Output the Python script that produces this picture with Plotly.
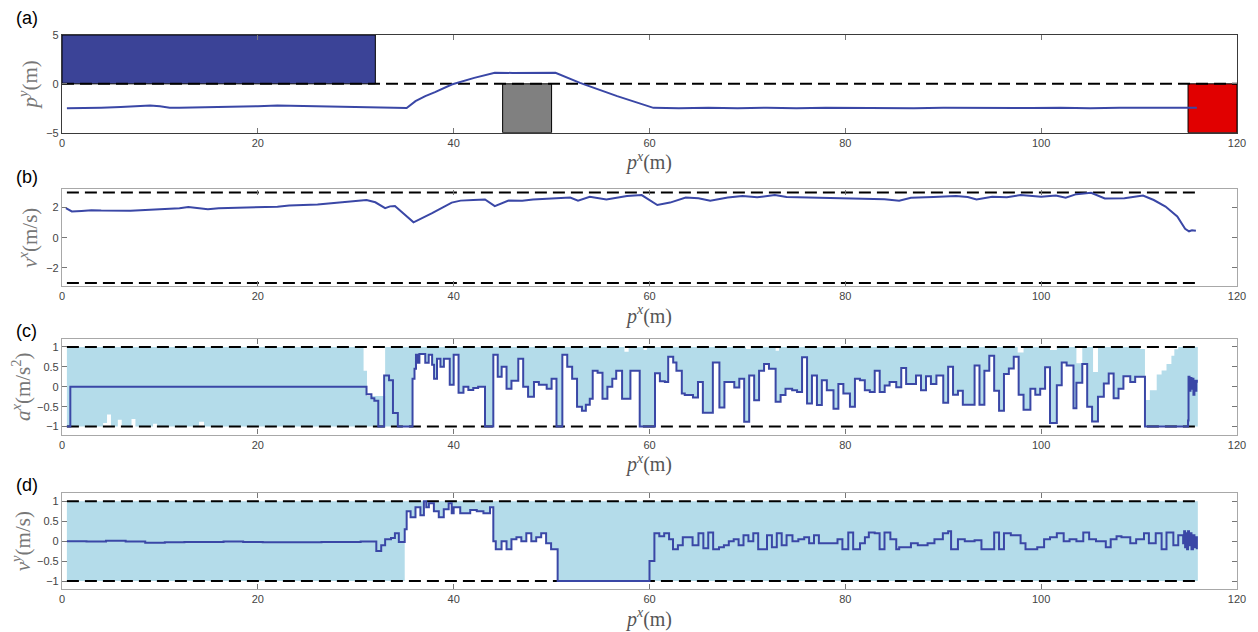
import plotly.graph_objects as go

# ---------------- data ----------------
x_ticks = [0, 20, 40, 60, 80, 100, 120]

# (a) obstacles / regions
obs_x0 = [0, 45, 115]
obs_x1 = [32, 50, 120]
obs_y0 = [0, -5, -5]
obs_y1 = [5, 0, 0]
obs_col = ["#3b4397", "#808080", "#e10000"]

# (a) lateral position trajectory
py_x = [0.5, 2, 4, 6, 8, 9, 10, 11, 12, 14, 16, 18, 20, 22, 24, 26, 28, 30, 32, 34, 35.2,
        36.1, 37.1, 38.1, 39.8, 42.1, 44.2, 46, 48, 50.4,
        52.9, 56.7, 60.4, 63, 66, 69, 72, 75, 78, 81, 84, 87, 90, 93, 96, 99, 102,
        105, 108, 111, 114, 115.9]
py_y = [-2.5, -2.5, -2.45, -2.38, -2.26, -2.22, -2.3, -2.45, -2.45, -2.42, -2.38, -2.35, -2.3,
        -2.22, -2.26, -2.33, -2.38, -2.4, -2.43, -2.5, -2.47,
        -1.77, -1.26, -0.85, -0.07, 0.61, 1.13, 1.12, 1.1, 1.13,
        0.1, -1.26, -2.46, -2.5, -2.44, -2.49, -2.45, -2.5, -2.44, -2.48, -2.45, -2.5, -2.45,
        -2.47, -2.43, -2.48, -2.44, -2.49, -2.45, -2.47, -2.44, -2.45]

# (b) longitudinal velocity
vx_x = [0.4, 1.0, 2, 3, 4, 5, 6, 7, 8, 9, 10, 10.8, 12, 12.9, 14, 14.9, 16, 17, 18, 19.9,
        21, 22, 23.2, 24.5, 26.1, 27.5, 29.5, 31.1, 32, 33, 33.5, 34, 35.9, 37.8, 39.8, 40.7,
        42, 43.2, 44.2, 45.6, 47, 48.1, 50, 51.9, 52.7, 53.9, 55.6, 57.7, 59.2, 60.8, 62.1,
        63.7, 65, 66.2, 68, 69.5, 71, 72.8, 74, 75.6, 78, 80, 82, 84, 85.5, 86.7, 89, 91.3,
        92.5, 93.4, 95, 96.5, 97.9, 100, 101.5, 102.5, 103.6, 105.1, 106.5, 108.5, 110.4,
        111.5, 112.7, 113.9, 114.7, 115.1, 115.4, 115.8]
vx_v = [1.96, 1.74, 1.78, 1.82, 1.8, 1.78, 1.8, 1.79, 1.82, 1.85, 1.86, 1.89, 1.96, 2.04, 1.95,
        1.89, 1.95, 1.97, 1.96, 2.0, 2.05, 2.06, 2.13, 2.15, 2.2, 2.28, 2.39, 2.5, 2.35, 1.96,
        2.08, 2.1, 1.02, 1.63, 2.33, 2.46, 2.5, 2.54, 2.1, 2.46, 2.45, 2.54, 2.6, 2.67, 2.46,
        2.72, 2.54, 2.76, 2.83, 2.17, 2.33, 2.67, 2.62, 2.46, 2.66, 2.76, 2.68, 2.83, 2.7,
        2.67, 2.65, 2.6, 2.58, 2.55, 2.46, 2.65, 2.7, 2.76, 2.7, 2.54, 2.72, 2.68, 2.83, 2.72,
        2.8, 2.66, 2.89, 2.98, 2.6, 2.62, 2.8, 2.5, 2.07, 1.41, 0.59, 0.43, 0.5, 0.46]

# (c) longitudinal acceleration (piecewise constant, value starts at ax_x[i])
ax_x = [0.5, 0.85, 31.1, 31.6, 31.9, 32.3, 32.9, 33.4, 33.8, 34.3,
        35.8, 36.0, 36.15, 36.35, 36.5, 37.1, 37.45, 37.8, 38.0, 38.3,
        38.65, 39.0, 39.6, 40.0, 40.5, 41.0, 41.5, 42.0, 42.5, 43.2,
        44.05, 44.5, 44.9, 45.4, 45.9, 46.6, 47.1, 47.6, 48.2, 48.7,
        49.5, 50.0, 50.5, 51.1, 51.6, 52.1, 52.6, 53.1, 53.5, 53.9,
        54.2, 54.7, 55.2, 55.7, 56.2, 56.6, 57.2, 58.05, 59.0, 60.56,
        61.06, 61.57, 61.91, 62.42, 62.75, 63.3, 63.6, 64.44, 64.95, 65.45,
        66.47, 67.14, 67.65, 68.66, 69.17, 69.67, 70.18, 70.69, 71.19, 71.7,
        72.2, 72.88, 73.39, 73.89, 74.57, 75.07, 75.58, 76.09, 76.59, 77.1,
        77.6, 78.11, 78.79, 79.29, 79.8, 80.47, 80.98, 81.49, 81.99, 82.5,
        83.0, 83.51, 84.02, 84.52, 85.2, 85.71, 86.21, 87.22, 87.73, 88.24,
        88.74, 89.3, 90.0, 90.5, 91.0, 91.5, 92.0, 93.2, 93.7, 94.2,
        94.7, 95.2, 95.7, 96.2, 96.7, 97.2, 97.7, 98.2, 98.9, 99.4,
        99.9, 100.4, 100.9, 101.6, 102.1, 102.6, 103.3, 103.6, 104.2, 104.7,
        105.2, 105.8, 106.4, 106.9, 107.4, 107.9, 108.4, 109.1, 109.6, 110.6,
        115.0, 115.05, 115.15, 115.25, 115.35, 115.45, 115.55, 115.65, 115.75, 115.85,
        115.9]
ax_v = [-1, 0, -0.19, -0.29, -0.35, -1, 0.28, 0.16, -0.66, -1,
        0.2, 0.45, 0.8, 0.6, 0.82, 0.6, 0.8, 0.55, 0.2, 0.7,
        0.5, 0.7, 0.05, 0.8, -0.15, 0.0, -0.08, -0.03, 0.0, -1,
        0.8, 0.25, 0.5, -0.05, 0.15, 0.7, 0.0, -0.25, 0.12, 0.05,
        -0.05, 0.2, -1, 0.8, 0.5, 0.2, -0.5, -0.6, -0.45, -0.3,
        0.4, 0.35, -0.3, 0.0, 0.2, 0.4, -0.3, 0.4, -1, 0.34,
        0.14, 0.12, 0.75, 0.61, 0.4, -0.17, -0.21, -0.27, 0.12, -0.65,
        0.61, -0.52, 0.12, -0.02, 0.2, -0.88, 0.28, -0.34, 0.4, 0.57,
        0.45, -0.38, -0.21, -0.05, -0.09, -0.13, 0.74, -0.42, 0.28, -0.46,
        0.16, -0.09, -0.55, 0.07, -0.17, -0.5, 0.2, 0.16, -0.09, -0.13,
        0.4, -0.13, 0.03, 0.12, -0.01, 0.47, 0.07, 0.28, -0.09, 0.26,
        0.07, 0.28, -0.4, 0.5, -0.2, -0.1, -0.45, 0.53, -0.45, 0.4,
        0.78, -0.1, -0.6, 0.32, 0.46, 0.75, -0.2, -0.58, -0.05, -0.2,
        -0.05, 0.49, -0.91, 0.04, 0.61, 0.53, -0.54, 0.1, 0.57, -0.5,
        -0.87, -0.25, 0.08, 0.33, -0.29, -0.05, 0.26, 0.12, 0.25, -1,
        -0.85, 0.25, -0.1, 0.22, -0.05, 0.2, -0.2, 0.15, -0.1, 0.15,
        0.1]

# (c) admissible acceleration set: lower edge before tracking starts, upper edge
ac_lo_x = [0.5, 4.2, 4.6, 5.0, 5.7, 6.1, 7.1, 7.5, 9.3, 9.7, 14.0, 14.5]
ac_lo_v = [-1, -0.91, -0.7, -1, -0.83, -1, -0.81, -1, -0.93, -1, -0.88, -1]
ac_track = [35.8, 110.6]          # lower edge follows a^x in this interval
ac_hi_x = [0.5, 30.8, 31.15, 33.0, 57.44, 57.87, 59.39, 59.73, 69.85, 70.35,
           72.88, 73.22, 97.6, 98.2, 100.9, 101.6, 103.6, 104.2, 105.3, 105.8,
           110.1, 110.6, 111.1, 111.8, 112.3, 112.8, 113.3, 113.6, 114.0, 116]
ac_hi_v = [1, 0.4, -0.23, 1, 0.88, 1, 0.92, 1, 0.95, 1,
           0.9, 1, 0.86, 1, 0.92, 1, 0.59, 1, 0.37, 1,
           0.95, -0.33, -0.09, 0.31, 0.41, 0.57, 0.78, 0.94, 1, 1]

# (d) lateral velocity (piecewise constant)
vy_x = [0.5, 2.5, 4.5, 6.5, 8.5, 10.5, 12.5, 14.5, 16.5, 18.5,
        20.5, 22.5, 24.5, 26.5, 28.5, 30.5, 32.1, 32.6, 33.0, 33.6,
        34.0, 34.4, 35.0, 35.2, 35.6, 36.1, 36.6, 36.96, 37.2, 37.47,
        37.98, 38.48, 38.99, 39.49, 39.8, 40.0, 40.67, 41.69, 42.36, 43.04,
        43.71, 44.05, 44.3, 44.89, 45.4, 45.9, 46.41, 46.91, 47.42, 47.93,
        48.43, 48.94, 49.44, 49.95, 50.62, 60.0, 60.5, 61.0, 61.5, 62.0,
        62.4, 62.9, 63.4, 64.4, 65.0, 65.5, 66.0, 66.5, 67.1, 67.6,
        68.1, 68.6, 69.1, 69.6, 70.1, 70.6, 71.1, 72.0, 72.5, 73.0,
        73.5, 74.0, 74.6, 75.2, 75.8, 76.3, 76.8, 77.3, 79.2, 79.7,
        80.3, 80.8, 81.5, 82.0, 82.4, 83.0, 83.5, 84.0, 84.6, 85.2,
        85.5, 86.7, 87.4, 88.4, 89.1, 89.96, 90.5, 90.8, 91.5, 92.2,
        93.2, 93.9, 95.2, 95.7, 96.2, 96.9, 97.9, 98.4, 99.6, 100.3,
        100.9, 101.6, 102.3, 102.9, 103.6, 104.3, 104.9, 105.6, 106.6, 107.1,
        107.7, 108.2, 109.1, 109.7, 110.5, 111.0, 111.7, 112.3, 112.8, 113.5,
        114.0, 114.5, 114.6, 114.7, 114.8, 114.9, 115.0, 115.1, 115.2, 115.35,
        115.5, 115.65, 115.8, 115.9]
vy_v = [0.0, -0.01, 0.01, -0.01, -0.04, -0.03, -0.02, -0.02, -0.01, -0.02,
        -0.03, -0.03, -0.03, -0.02, -0.02, -0.01, -0.25, -0.1, 0.05, 0.08,
        0.2, -0.02, 0.3, 0.75, 0.6, 0.85, 0.65, 1.0, 0.85, 0.95,
        0.75, 0.6, 0.8, 0.95, 0.7, 0.85, 0.7, 0.78, 0.75, 0.7,
        0.85, 0.0, -0.2, 0.0, -0.2, 0.05, 0.1, 0.0, 0.2, 0.0,
        0.1, 0.2, -0.05, -0.2, -1, -0.5, 0.2, 0.12, 0.2, 0.05,
        -0.2, -0.1, 0.1, -0.1, 0.2, -0.18, 0.22, -0.2, -0.15, -0.1,
        0.0, 0.05, -0.1, 0.15, 0.0, 0.2, -0.2, 0.15, -0.15, 0.2,
        -0.1, 0.15, 0.0, 0.05, 0.1, -0.05, 0.15, -0.05, 0.05, -0.2,
        0.22, -0.2, -0.05, 0.1, 0.22, 0.2, -0.2, 0.22, 0.05, -0.2,
        -0.15, -0.05, -0.1, -0.05, 0.05, 0.2, 0.25, -0.2, 0.05, 0.0,
        0.02, -0.2, 0.22, -0.2, 0.2, 0.15, -0.05, -0.2, -0.15, 0.05,
        0.1, 0.2, 0.0, 0.05, 0.0, 0.22, 0.05, 0.0, -0.15, 0.05,
        0.12, 0.1, -0.05, 0.05, 0.2, -0.05, 0.2, -0.2, 0.22, -0.1,
        0.15, -0.05, 0.25, -0.15, 0.2, -0.2, 0.25, -0.1, 0.2, -0.2,
        0.15, -0.15, 0.1, -0.2]
vy_track = [35.0, 50.62]          # lower edge of admissible set follows v^y here

band_x = [0.5, 116]               # extent of the constraint lines / sets
vx_lim = 3
a_lim = 1
vy_lim = 1

# ---------------- styling ----------------
LINE = "#3a47a6"
FILL = "#b4dcea"
SERIF = "Liberation Serif, DejaVu Serif, serif"
SANS = "Liberation Sans, Arial, Helvetica, sans-serif"

fig = go.Figure()


def add(tr, k):
    tr.update(xaxis="x" if k == 1 else f"x{k}", yaxis="y" if k == 1 else f"y{k}",
              showlegend=False, hoverinfo="skip")
    fig.add_trace(tr)


def dashed(k, xs, yv):
    add(go.Scatter(x=xs, y=[yv] * len(xs), mode="lines",
                   line=dict(color="black", width=2, dash="12px,6px")), k)


# ---- (a)
for i in range(len(obs_x0)):
    fig.add_shape(type="rect", xref="x", yref="y", x0=obs_x0[i], x1=obs_x1[i],
                  y0=obs_y0[i], y1=obs_y1[i], fillcolor=obs_col[i],
                  line=dict(color="black", width=1), layer="below")
dashed(1, [0, 120], 0)
add(go.Scatter(x=py_x, y=py_y, mode="lines", line=dict(color=LINE, width=2)), 1)

# ---- (b)
dashed(2, band_x, vx_lim)
dashed(2, band_x, -vx_lim)
add(go.Scatter(x=vx_x, y=vx_v, mode="lines", line=dict(color=LINE, width=2)), 2)

# ---- (c)
lo_x = ac_lo_x + [x for x in ax_x if ac_track[0] <= x < ac_track[1]] + [ac_track[1], band_x[1]]
lo_v = ac_lo_v + [v for x, v in zip(ax_x, ax_v) if ac_track[0] <= x < ac_track[1]] + [-a_lim, -a_lim]
add(go.Scatter(x=lo_x, y=lo_v, mode="lines", line=dict(width=0, shape="hv")), 3)
add(go.Scatter(x=ac_hi_x, y=ac_hi_v, mode="lines", line=dict(width=0, shape="hv"),
               fill="tonexty", fillcolor=FILL), 3)
dashed(3, band_x, a_lim)
dashed(3, band_x, -a_lim)
add(go.Scatter(x=ax_x, y=ax_v, mode="lines", line=dict(color=LINE, width=2, shape="hv")), 3)

# ---- (d)
lo_x = [band_x[0]] + [x for x in vy_x if vy_track[0] <= x < vy_track[1]] + [vy_track[1], band_x[1]]
lo_v = [-vy_lim] + [v for x, v in zip(vy_x, vy_v) if vy_track[0] <= x < vy_track[1]] + [-vy_lim, -vy_lim]
add(go.Scatter(x=lo_x, y=lo_v, mode="lines", line=dict(width=0, shape="hv")), 4)
add(go.Scatter(x=band_x, y=[vy_lim, vy_lim], mode="lines", line=dict(width=0, shape="hv"),
               fill="tonexty", fillcolor=FILL), 4)
dashed(4, band_x, vy_lim)
dashed(4, band_x, -vy_lim)
add(go.Scatter(x=vy_x, y=vy_v, mode="lines", line=dict(color=LINE, width=2, shape="hv")), 4)

# ---------------- layout ----------------
domains = [[0.8237, 1.0], [0.5468, 0.7212], [0.2788, 0.4514], [0.0, 0.1727]]
yranges = [[-5, 5], [-3.2, 3.2], [-1.2, 1.2], [-1.2, 1.2]]
yticks = [[-5, 0, 5], [-2, 0, 2], [-1, -0.5, 0, 0.5, 1], [-1, -0.5, 0, 0.5, 1]]
ytitles = ["<i>p</i><sup><i>y</i></sup>(m)",
           "<i>v</i><sup><i>x</i></sup>(m/s)",
           "<i>a</i><sup><i>x</i></sup>(m/s<sup>2</sup>)",
           "<i>v</i><sup><i>y</i></sup>(m/s)"]
boxcol = ["#3a3a3a", "#a8a8a8", "#a8a8a8", "#a8a8a8"]
labels = ["(a)", "(b)", "(c)", "(d)"]
label_y = [18, 178, 332, 487]

# the page adds an 8px body margin, so the figure is sized to fit the window
lay = dict(width=1250, height=624, paper_bgcolor="white", plot_bgcolor="white",
           margin=dict(l=49, r=16, t=27, b=41), showlegend=False)
for k in range(1, 5):
    sx = "xaxis" if k == 1 else f"xaxis{k}"
    sy = "yaxis" if k == 1 else f"yaxis{k}"
    lay[sx] = dict(domain=[0, 1], range=[0, 120], tickvals=x_ticks,
                   anchor="y" if k == 1 else f"y{k}",
                   showgrid=False, zeroline=False, showline=True, linecolor=boxcol[k - 1],
                   linewidth=1.2, mirror="ticks", ticks="inside", ticklen=5,
                   tickcolor="#777", tickfont=dict(family=SANS, size=11, color="#444"),
                   title=dict(text="<i>p</i><sup><i>x</i></sup>(m)", standoff=1,
                              font=dict(family=SERIF, size=20, color="#555")))
    lay[sy] = dict(domain=domains[k - 1], range=yranges[k - 1], tickvals=yticks[k - 1],
                   anchor="x" if k == 1 else f"x{k}",
                   showgrid=False, zeroline=False, showline=True, linecolor=boxcol[k - 1],
                   linewidth=1.2, mirror="ticks", ticks="inside", ticklen=5,
                   tickcolor="#777", tickfont=dict(family=SANS, size=11, color="#444"),
                   title=dict(text=ytitles[k - 1], standoff=2,
                              font=dict(family=SERIF, size=21, color="#777")))
fig.update_layout(**lay)

for lab, py in zip(labels, label_y):
    fig.add_annotation(text=lab, xref="paper", yref="paper", x=-0.0405,
                       y=(591 - py) / 556, xanchor="left", yanchor="middle",
                       showarrow=False, font=dict(family=SANS, size=18, color="black"))

fig.write_html("out.html")
